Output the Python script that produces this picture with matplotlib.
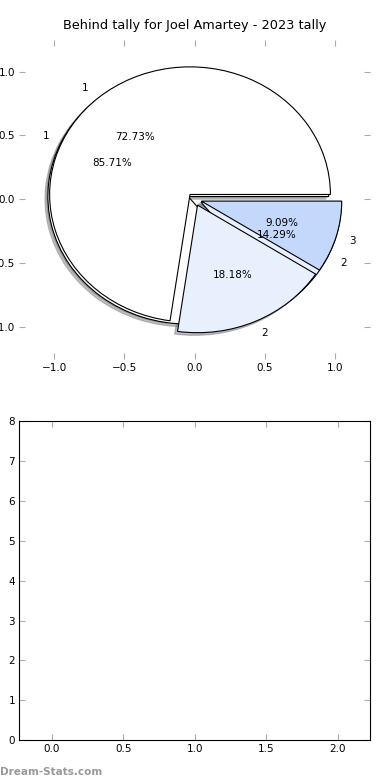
import matplotlib
matplotlib.use('Agg')
import matplotlib.pyplot as plt

title = 'Behind tally for Joel Amartey - 2023 tally'

# first pie: two groups
labels_a = ['1', '2']
values_a = [6, 1]

# second pie: three groups
labels_b = ['1', '2', '3']
values_b = [8, 2, 1]

colors = ['#ffffff', '#e9f0fd', '#c4d8fc']

plt.rcParams['font.family'] = 'DejaVu Sans'

fig = plt.figure(figsize=(3.9, 7.8), dpi=100)
ax1 = fig.add_axes([0.049, 0.54, 0.9, 0.409])
ax2 = fig.add_axes([0.049, 0.051, 0.9, 0.409])

shadow = {'ox': -0.015, 'oy': -0.015, 'shade': 0.5}
ax1.pie(values_a, labels=labels_a, colors=colors[:len(values_a)], autopct='%.2f%%',
        explode=[0.05] * len(values_a), shadow=shadow, frame=True,
        wedgeprops={'edgecolor': 'black', 'linewidth': 0.8},
        textprops={'fontsize': 7.5})
ax1.pie(values_b, labels=labels_b, colors=colors, autopct='%.2f%%',
        explode=[0.05] * len(values_b), shadow=shadow, frame=True,
        wedgeprops={'edgecolor': 'black', 'linewidth': 0.8},
        textprops={'fontsize': 7.5})
ax1.set_aspect('auto')
ax1.set_xlim(-1.25, 1.25)
ax1.set_ylim(-1.25, 1.25)
ax1.set_xticks([-1.0, -0.5, 0.0, 0.5, 1.0])
ax1.set_yticks([-1.0, -0.5, 0.0, 0.5, 1.0])
for s in ax1.spines.values():
    s.set_visible(False)
ax1.set_title(title, fontsize=9.3, pad=8)

ax2.set_xlim(-0.228, 2.228)
ax2.set_ylim(0, 8)
ax2.set_xticks([0.0, 0.5, 1.0, 1.5, 2.0])
ax2.set_yticks(range(0, 9))

for ax in (ax1, ax2):
    ax.tick_params(direction='in', length=4, color='#aaaaaa', labelsize=7.5,
                   top=True, right=True, pad=3)

fig.text(0.0, 0.004, 'Dream-Stats.com', color='#999999', fontsize=7.5,
         fontweight='bold', ha='left', va='bottom')

fig.savefig('out.png', dpi=100)
